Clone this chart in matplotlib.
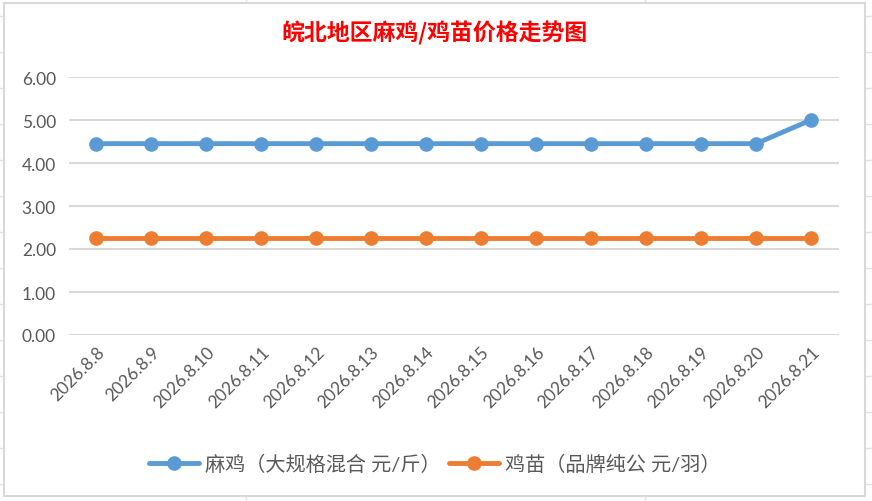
import matplotlib.pyplot as plt
from matplotlib.lines import Line2D
from matplotlib.patches import Rectangle

# -------------------------
# Data
# -------------------------
dates = ['2026.8.8', '2026.8.9', '2026.8.10', '2026.8.11', '2026.8.12',
         '2026.8.13', '2026.8.14', '2026.8.15', '2026.8.16', '2026.8.17',
         '2026.8.18', '2026.8.19', '2026.8.20', '2026.8.21']
maji = [4.45, 4.45, 4.45, 4.45, 4.45, 4.45, 4.45,
        4.45, 4.45, 4.45, 4.45, 4.45, 4.45, 5.00]
jimiao = [2.25, 2.25, 2.25, 2.25, 2.25, 2.25, 2.25,
          2.25, 2.25, 2.25, 2.25, 2.25, 2.25, 2.25]
yticks = [0, 1, 2, 3, 4, 5, 6]

title = '皖北地区麻鸡/鸡苗价格走势图'
label_maji = '麻鸡（大规格混合 元/斤）'
label_jimiao = '鸡苗（品牌纯公 元/羽）'

plt.rcParams['font.family'] = ['Lato', 'Noto Sans CJK SC', 'DejaVu Sans']

W, H = 872, 502
fig = plt.figure(figsize=(W / 100, H / 100), dpi=100)

# -------------------------
# Spreadsheet grid behind the chart
# -------------------------
grid_c = '#E3E3E3'
for k in range(14):
    y = 1 - (17.3 + 36 * k) / H
    fig.add_artist(Line2D([0, 1], [y, y], color=grid_c, lw=1, zorder=0))
for x in [246, 645]:
    fig.add_artist(Line2D([x / W, x / W], [0, 1], color=grid_c, lw=1, zorder=0))

# chart area
fig.add_artist(Rectangle((3.5 / W, 1 - 497 / H), (865 - 3.5) / W, (497 - 3.5) / H,
                         facecolor='white', edgecolor='#D9D9D9', lw=1.5, zorder=1))

# -------------------------
# Plot
# -------------------------
ax = fig.add_axes([68.5 / W, (H - 336) / H, 770 / W, 258 / H])
ax.set_zorder(2)
ax.patch.set_alpha(0)

xs = list(range(len(dates)))
ax.plot(xs, maji, color='#5B9BD5', lw=3.5, marker='o', markersize=9.5,
        solid_capstyle='round', label=label_maji)
ax.plot(xs, jimiao, color='#ED7D31', lw=3.5, marker='o', markersize=9.5,
        solid_capstyle='round', label=label_jimiao)

ax.set_xlim(-0.5, len(dates) - 0.5)
ax.set_ylim(0, 6)
ax.set_yticks(yticks)
ax.set_yticklabels([f'{v:.2f}' for v in yticks])
ax.set_xticks(xs)
ax.set_xticklabels(dates, rotation=45, ha='right', va='top', rotation_mode='anchor')

ax.grid(axis='y', color='#D9D9D9', lw=1.5)
ax.set_axisbelow(True)
for s in ax.spines.values():
    s.set_visible(False)
ax.tick_params(axis='both', length=0, colors='#595959', labelsize=12.5)
ax.tick_params(axis='y', pad=9)
ax.tick_params(axis='x', pad=6)

fig.text(435 / W, 1 - 33 / H, title, color='#FF0000', fontsize=16.5,
         fontweight='bold', family=['Noto Sans CJK SC', 'DejaVu Sans'],
         ha='center', va='center', zorder=3)

leg = fig.legend(loc='center', bbox_to_anchor=(435 / W, 1 - 464 / H), ncol=2,
                 frameon=False, fontsize=14.5, handlelength=2.5, columnspacing=0.4,
                 handletextpad=0.3, labelcolor='#595959')

fig.savefig('out.png', dpi=100)
